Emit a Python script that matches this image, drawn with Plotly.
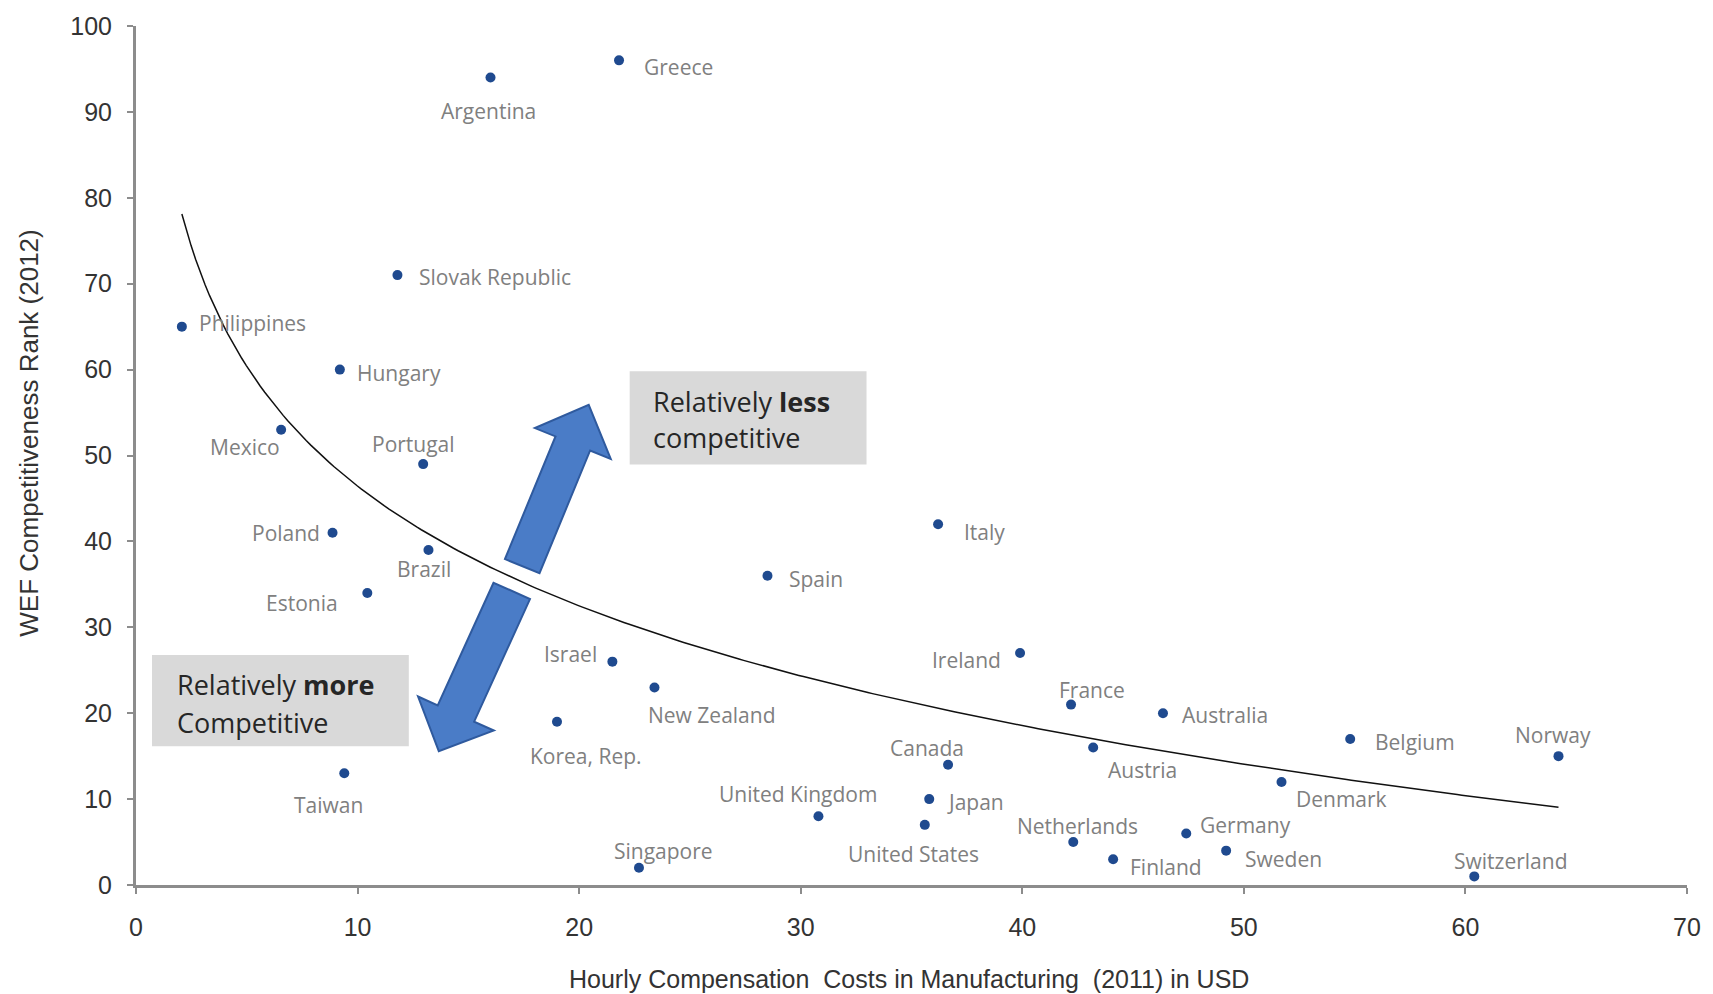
import numpy as np
import plotly.graph_objects as go

# ---------------- data ----------------
countries = ["Argentina", "Greece", "Slovak Republic", "Philippines", "Hungary", "Mexico",
             "Portugal", "Poland", "Brazil", "Estonia", "Israel", "New Zealand", "Korea, Rep.",
             "Taiwan", "Singapore", "Spain", "Italy", "Ireland", "France", "Australia",
             "Belgium", "Norway", "Canada", "Austria", "Denmark", "Japan", "United Kingdom",
             "United States", "Netherlands", "Germany", "Sweden", "Finland", "Switzerland"]
hourly_cost = [16.0, 21.8, 11.8, 2.07, 9.2, 6.55,
               12.96, 8.87, 13.2, 10.44, 21.5, 23.4, 19.0,
               9.4, 22.7, 28.5, 36.2, 39.9, 42.2, 46.35,
               54.8, 64.2, 36.65, 43.2, 51.7, 35.8, 30.8,
               35.6, 42.3, 47.4, 49.2, 44.1, 60.4]
wef_rank = [94, 96, 71, 65, 60, 53,
            49, 41, 39, 34, 26, 23, 19,
            13, 2, 36, 42, 27, 21, 20,
            17, 15, 14, 16, 12, 10, 8,
            7, 5, 6, 4, 3, 1]
x_ticks = [0, 10, 20, 30, 40, 50, 60, 70]
y_ticks = [0, 10, 20, 30, 40, 50, 60, 70, 80, 90, 100]

# label placement (anchor, dx px, dy px downward) -- styling only
label_pos = {
    "Argentina": ("center", -2, 33), "Greece": ("left", 23, 7),
    "Slovak Republic": ("left", 20, 2), "Philippines": ("left", 15, -4),
    "Hungary": ("left", 15, 3), "Mexico": ("center", -36, 17),
    "Portugal": ("center", -10, -20), "Poland": ("right", -11, 0),
    "Brazil": ("center", -4, 19), "Estonia": ("right", -27, 10),
    "Israel": ("right", -13, -8), "New Zealand": ("left", -8, 28),
    "Korea, Rep.": ("center", 29, 34), "Taiwan": ("center", -16, 32),
    "Singapore": ("center", 25, -17), "Spain": ("left", 20, 3),
    "Italy": ("left", 24, 8), "Ireland": ("right", -17, 7),
    "France": ("center", 21, -15), "Australia": ("left", 17, 2),
    "Belgium": ("left", 23, 3), "Norway": ("center", -5, -21),
    "Canada": ("center", -21, -17), "Austria": ("center", 49, 22),
    "Denmark": ("left", 12, 17), "Japan": ("left", 16, 3),
    "United Kingdom": ("center", -20, -22), "United States": ("center", -11, 29),
    "Netherlands": ("center", 4, -16), "Germany": ("left", 12, -8),
    "Sweden": ("left", 17, 8), "Finland": ("left", 15, 8),
    "Switzerland": ("center", 37, -15),
}

# ---------------- layout geometry ----------------
W, H = 1713, 994
ML, MR, MT, MB = 136, 25, 19, 109
PW, PH = W - ML - MR, H - MT - MB
XR, YR = [0, 70], [0, 100]


def p2d(xp, yp):
    return (XR[0] + (xp - ML) / PW * (XR[1] - XR[0]),
            YR[0] + (H - MB - yp) / PH * (YR[1] - YR[0]))


def p2paper(xp, yp):
    return ((xp - ML) / PW, (H - MB - yp) / PH)


def arrow_path(base, tip, sw, hw, hl):
    b = np.array(base, float)
    t = np.array(tip, float)
    u = (t - b) / np.linalg.norm(t - b)
    n = np.array([-u[1], u[0]])
    hb = t - u * hl
    pts = [b + n * sw, hb + n * sw, hb + n * hw, t, hb - n * hw, hb - n * sw, b - n * sw]
    d = []
    for i, p in enumerate(pts):
        x, y = p2d(p[0], p[1])
        d.append(("M" if i == 0 else "L") + f"{x:.4f},{y:.4f}")
    return " ".join(d) + " Z"


fig = go.Figure()

# trendline: logarithmic fit of the data
lx = np.log(np.array(hourly_cost))
slope, intercept = np.polyfit(lx, np.array(wef_rank, float), 1)
xs = np.linspace(min(hourly_cost), max(hourly_cost), 300)
fig.add_trace(go.Scatter(x=xs, y=intercept + slope * np.log(xs), mode="lines",
                         line=dict(color="#111111", width=1.5), hoverinfo="skip",
                         showlegend=False))

fig.add_trace(go.Scatter(x=hourly_cost, y=wef_rank, mode="markers",
                         marker=dict(color="#1f4a8f", size=10), text=countries,
                         showlegend=False))

annotations = []
for c, xv, yv in zip(countries, hourly_cost, wef_rank):
    anc, dx, dy = label_pos[c]
    annotations.append(dict(x=xv, y=yv, xref="x", yref="y", text=c, showarrow=False,
                            xanchor=anc, yanchor="middle", xshift=dx, yshift=-dy,
                            font=dict(family="Open Sans", size=21, color="#808080")))

# gray boxes
shapes = []
for (x0p, y0p, x1p, y1p) in [(630, 367, 867, 461), (152, 653, 409, 745)]:
    x0, y0 = p2d(x0p, y1p)
    x1, y1 = p2d(x1p, y0p)
    shapes.append(dict(type="rect", xref="x", yref="y", x0=x0, y0=y0, x1=x1, y1=y1,
                       fillcolor="#d9d9d9", line=dict(width=0), layer="below"))

# block arrows
shapes.append(dict(type="path", xref="x", yref="y",
                   path=arrow_path((522.5, 563.5), (589, 401), 18.7, 41, 42),
                   fillcolor="#4a7cc7", line=dict(color="#2f5a9e", width=2)))
shapes.append(dict(type="path", xref="x", yref="y",
                   path=arrow_path((512, 588.5), (439, 750), 20, 41.6, 41.6),
                   fillcolor="#4a7cc7", line=dict(color="#2f5a9e", width=2)))

box_font = dict(family="Open Sans", size=27, color="#262626")
for (xp, yp, txt) in [(651, 398, "Relatively <b>less</b>"), (651, 434, "competitive"),
                      (175, 683, "Relatively <b>more</b>"), (175, 721, "Competitive")]:
    x, y = p2d(xp, yp)
    annotations.append(dict(x=x, y=y, xref="x", yref="y", text=txt, showarrow=False,
                            xanchor="left", yanchor="middle", font=box_font))

# axis titles (paper coordinates so they can sit outside the plot area)
ax_font = dict(family="Liberation Sans", size=25, color="#333333")
x, y = p2paper(909, 980)
annotations.append(dict(x=x, y=y, xref="paper", yref="paper",
                        text="Hourly Compensation\u00a0 Costs in Manufacturing\u00a0 (2011) in USD",
                        showarrow=False, xanchor="center", yanchor="middle", font=ax_font))
x, y = p2paper(29, 430)
annotations.append(dict(x=x, y=y, xref="paper", yref="paper",
                        text="WEF Competitiveness Rank (2012)",
                        textangle=-90, showarrow=False, xanchor="center", yanchor="middle",
                        font=dict(family="Liberation Sans", size=26, color="#333333")))

fig.update_layout(
    width=W, height=H, autosize=False,
    margin=dict(l=ML, r=MR, t=MT, b=MB),
    paper_bgcolor="white", plot_bgcolor="white",
    shapes=shapes, annotations=annotations, showlegend=False,
)
tick_font = dict(family="Liberation Sans", size=25, color="#333333")
fig.update_xaxes(range=XR, tickvals=x_ticks, showgrid=False, zeroline=False,
                 showline=True, linecolor="#8c8c8c", linewidth=3,
                 ticks="outside", ticklen=6, tickwidth=1.5, tickcolor="#8c8c8c",
                 tickfont=tick_font, ticklabelstandoff=12)
fig.update_yaxes(range=YR, tickvals=y_ticks, showgrid=False, zeroline=False,
                 showline=True, linecolor="#8c8c8c", linewidth=3,
                 ticks="outside", ticklen=6, tickwidth=1.5, tickcolor="#8c8c8c",
                 tickfont=tick_font, ticklabelstandoff=10)

fig.write_html("out.html")
